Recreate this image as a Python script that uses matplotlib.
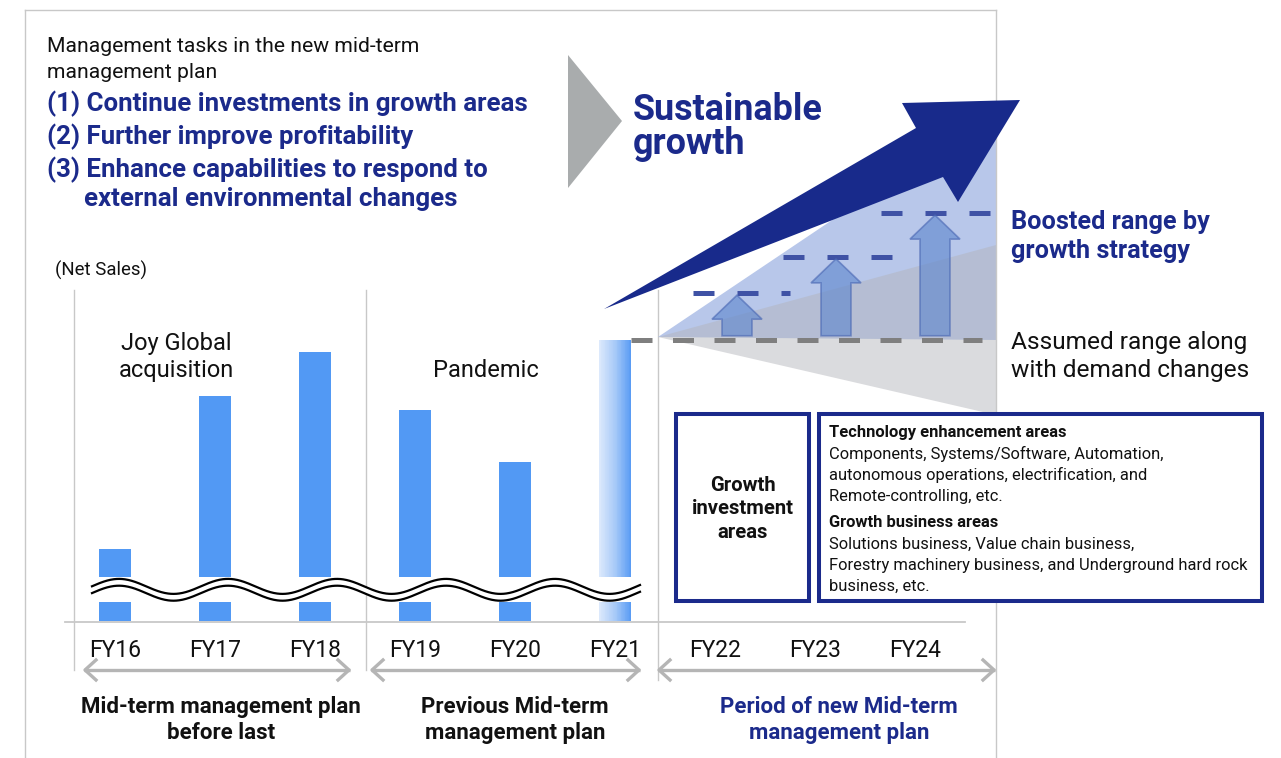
import numpy as np
import matplotlib
matplotlib.use('Agg')
import matplotlib.pyplot as plt
from matplotlib.patches import Polygon, Rectangle
from matplotlib.colors import LinearSegmentedColormap

plt.rcParams['font.family'] = ['Roboto', 'DejaVu Sans']

# ---------------- data ----------------
fiscal_years = ['FY16', 'FY17', 'FY18', 'FY19', 'FY20', 'FY21', 'FY22', 'FY23', 'FY24']
net_sales = [1800, 2520, 2725, 2450, 2210, 2780]          # FY16-FY21 (broken axis)
assumed_level = 2780                                       # FY21 level carried forward
boosted_levels = [3000, 3170, 3375]                        # FY22-FY24 boosted targets
event_labels = ['Joy Global\nacquisition', 'Pandemic']
plan_labels = ['Mid-term management plan\nbefore last',
               'Previous Mid-term\nmanagement plan',
               'Period of new Mid-term\nmanagement plan']
task_header = 'Management tasks in the new mid-term\nmanagement plan'
tasks = ['(1) Continue investments in growth areas',
         '(2) Further improve profitability',
         '(3) Enhance capabilities to respond to',
         'external environmental changes']
goal_text = 'Sustainable\ngrowth'
tech_lines = ['Components, Systems/Software, Automation,',
              'autonomous operations, electrification, and',
              'Remote-controlling, etc.']
biz_lines = ['Solutions business, Value chain business,',
             'Forestry machinery business, and Underground hard rock',
             'business, etc.']

NAVY = '#1b2a8b'
BAR = '#5299f4'
W, H = 1281, 758
PXU = 0.2135      # pixels per sales unit
BREAK = 1670      # value at upper break

fig = plt.figure(figsize=(W / 100, H / 100), dpi=100)
bg = fig.add_axes([0, 0, 1, 1], zorder=0)
bg.set_xlim(0, W); bg.set_ylim(H, 0); bg.axis('off')


def px_axes(x0, x1, ytop, ybot, z):
    a = fig.add_axes([x0 / W, (H - ybot) / H, (x1 - x0) / W, (ybot - ytop) / H], zorder=z)
    a.patch.set_visible(False)
    return a


def txt(x, y, s, size, color='#111111', weight='normal', ha='left', **kw):
    bg.text(x, y, s, fontsize=size, color=color, fontweight=weight, ha=ha, va='baseline', **kw)


# ---------------- frame & separators ----------------
fc = '#c8c8c8'
bg.plot([25, 996], [10, 10], color=fc, lw=1, zorder=1)
bg.plot([25, 25], [10, 758], color=fc, lw=1, zorder=1)
for x, y1 in [(74, 670), (366, 670), (658, 680)]:
    bg.plot([x, x], [290, y1], color=fc, lw=1, zorder=1)
bg.plot([65, 965], [621.5, 621.5], color=fc, lw=1.3, zorder=1)

# ---------------- growth cone ----------------
bg.add_patch(Polygon([(658, 337), (996, 110), (996, 340)], closed=True,
                     facecolor='#b8c7ea', edgecolor='none', zorder=2))
bg.add_patch(Polygon([(658, 337), (996, 245), (996, 415)], closed=True,
                     facecolor='#b2b4ba', alpha=0.48, edgecolor='none', zorder=3))
bg.plot([996, 996], [10, 758], color=fc, lw=1, zorder=3.5)

# big navy arrow
bg.add_patch(Polygon([(604, 309), (916, 128), (902, 103), (1020, 100), (958, 202), (943, 177)],
                     closed=True, facecolor='#182a8b', edgecolor='none', zorder=6))
# grey chevron
bg.add_patch(Polygon([(568, 55), (622, 121), (568, 188)], closed=True,
                     facecolor='#a9acad', edgecolor='none', zorder=2))

# ---------------- bars (broken axis) ----------------
ax_up = px_axes(65, 965, 0, 577, 1)
ax_lo = px_axes(65, 965, 602, 621, 1)
top_val = BREAK + 577 / PXU
xs = np.arange(len(net_sales))
BW = 0.32
grad_cmap = LinearSegmentedColormap.from_list('g', ['#dce9fc', '#a8caf8', '#5a9cf4'])
nslice = 40
for a in (ax_up, ax_lo):
    a.bar(xs[:-1], net_sales[:-1], width=BW, color=BAR, edgecolor='none')
    # FY21 bar drawn as a left-to-right gradient
    sx = xs[-1] - BW / 2 + (np.arange(nslice) + 0.5) * BW / nslice
    a.bar(sx, [net_sales[-1]] * nslice, width=BW / nslice * 1.02,
          color=grad_cmap(np.linspace(0, 1, nslice)), edgecolor='none')
    a.set_xlim(-0.5, 8.5)
    for s in a.spines.values():
        s.set_visible(False)
    a.set_yticks([])
ax_up.set_ylim(BREAK, top_val)
ax_lo.set_ylim(0, 19 / PXU)
ax_up.set_xticks([])
ax_lo.set_xticks(np.arange(len(fiscal_years)))
ax_lo.set_xticklabels(fiscal_years, fontsize=16.5, color='#111111')
ax_lo.tick_params(axis='x', length=0, pad=13)

# assumed range (grey dashed) and boosted levels
ax_up.plot([5.16, 8.67], [assumed_level, assumed_level], color='#7f7f7f', lw=3.6,
           dashes=(21 * 0.72 / 3.6, 20.5 * 0.72 / 3.6), solid_capstyle='butt',
           dash_capstyle='butt', clip_on=False, zorder=4)
spans = [(693, 790), (783, 896), (881, 992)]
centers = [737, 836, 935]
for i, lvl in enumerate(boosted_levels):
    x0, x1 = [(p - 115) / 100 for p in spans[i]]
    ax_up.plot([x0, x1], [lvl, lvl], color='#3f52a5', lw=3.6,
               dashes=(21 * 0.72 / 3.6, 23 * 0.72 / 3.6), dash_capstyle='butt',
               clip_on=False, zorder=4)
    c = (centers[i] - 115) / 100
    base = assumed_level + 20
    tip = lvl - 10
    hl = 24 / PXU
    sw, hw = 0.15, 0.25
    pts = [(c - sw, base), (c - sw, tip - hl), (c - hw, tip - hl), (c, tip),
           (c + hw, tip - hl), (c + sw, tip - hl), (c + sw, base)]
    ax_up.add_patch(Polygon(pts, closed=True, facecolor='#5f87cd', alpha=0.62,
                            edgecolor='#4a67b3', lw=1.2, clip_on=False, zorder=5))

# ---------------- overlay: wave break ----------------
ov = px_axes(0, W, 0, H, 2)
ov.set_xlim(0, W); ov.set_ylim(H, 0); ov.axis('off')
xw = np.linspace(92, 640, 800)
yc = 589.8 - 7.5 * np.cos(2 * np.pi * (xw - 119) / 109)
ov.fill_between(xw, yc - 3.3, yc + 3.3, color='white', lw=0)
ov.plot(xw, yc - 3.4, color='black', lw=1.6)
ov.plot(xw, yc + 3.4, color='black', lw=1.6)

# period arrows
ac = '#b5b5b5'
for xa, xb in [(84, 350), (371, 640), (658, 995)]:
    y = 670
    ov.plot([xa, xb], [y, y], color=ac, lw=2.4, solid_capstyle='butt')
    ov.plot([xa + 12, xa + 1, xa + 12], [y - 10, y, y + 10], color=ac, lw=2.4)
    ov.plot([xb - 12, xb - 1, xb - 12], [y - 10, y, y + 10], color=ac, lw=2.4)

# ---------------- text ----------------
hdr = task_header.split('\n')
txt(47, 52, hdr[0], 15.2)
txt(47, 78, hdr[1], 15.2)
for (x, y), s in zip([(47, 111), (47, 144), (47, 177), (84, 206)], tasks):
    txt(x, y, s, 18.6, color=NAVY, weight='bold')
bg.text(633, 92, goal_text, fontsize=25.8, color=NAVY, fontweight='bold', ha='left',
        va='top', linespacing=0.92)
txt(1011, 229, 'Boosted range by', 18.2, color=NAVY, weight='bold')
txt(1011, 258, 'growth strategy', 18.2, color=NAVY, weight='bold')
txt(1011, 349, 'Assumed range along', 17.6)
txt(1011, 377, 'with demand changes', 17.6)
txt(55, 276, '(Net Sales)', 13.4)
ev = event_labels[0].split('\n')
txt(176.5, 350, ev[0], 17, ha='center')
txt(176.5, 377, ev[1], 17, ha='center')
txt(486, 377, event_labels[1], 17, ha='center')

for cx, lab, col in zip([221, 515, 839], plan_labels, ['#111111', '#111111', NAVY]):
    l1, l2 = lab.split('\n')
    txt(cx, 713, l1, 16, color=col, weight='bold', ha='center')
    txt(cx, 739, l2, 16, color=col, weight='bold', ha='center')

# ---------------- boxes ----------------
bg.add_patch(Rectangle((676, 413.7), 133, 187.5, facecolor='white', edgecolor='#1b2a8b',
                       lw=2.9, zorder=7))
bg.add_patch(Rectangle((819, 413.7), 442.5, 187.5, facecolor='white', edgecolor='#1b2a8b',
                       lw=2.9, zorder=7))
for y, s in zip([491, 514.5, 538], ['Growth', 'investment', 'areas']):
    bg.text(742.5, y, s, fontsize=14.6, fontweight='bold', color='#111111', ha='center',
            va='baseline', zorder=8)
bg.text(829, 437, 'Technology enhancement areas', fontsize=11.9, fontweight='bold',
        color='#111111', va='baseline', zorder=8)
for y, s in zip([458.5, 480, 501], tech_lines):
    bg.text(829, y, s, fontsize=11.9, color='#111111', va='baseline', zorder=8)
bg.text(829, 527, 'Growth business areas', fontsize=11.9, fontweight='bold',
        color='#111111', va='baseline', zorder=8)
for y, s in zip([548.5, 570, 591], biz_lines):
    bg.text(829, y, s, fontsize=11.9, color='#111111', va='baseline', zorder=8)

fig.savefig('out.png', dpi=100, facecolor='white')
